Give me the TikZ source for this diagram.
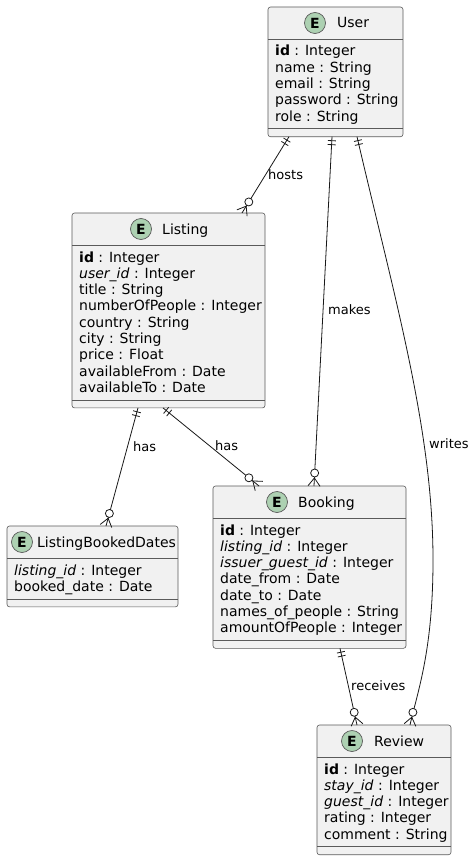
\documentclass[tikz,border=0pt]{standalone}
\usepackage{fontspec}
\setmainfont{DejaVu Sans}
\usetikzlibrary{calc}
\definecolor{boxfill}{HTML}{F1F1F1}
\definecolor{ink}{HTML}{181818}
\definecolor{boxline}{HTML}{5A5A5A}
\definecolor{badgefill}{HTML}{ADD1B2}
\tikzset{
  entbox/.style={draw=boxline, line width=0.6pt, fill=boxfill, rounded corners=2.5pt, inner sep=0pt, outer sep=0pt},
  sepline/.style={draw=boxline, line width=0.6pt},
  badge/.style={circle, draw=boxline, line width=0.7pt, fill=badgefill, minimum size=21pt, inner sep=0pt, font=\fontsize{14}{14}\selectfont\bfseries},
  ttl/.style={inner sep=0pt, font=\fontsize{14}{16}\selectfont},
  attr/.style={inner sep=0pt, font=\fontsize{14}{16}\selectfont},
  conn/.style={draw=ink, line width=0.8pt},
  lbl/.style={inner sep=0pt, font=\fontsize{13}{15}\selectfont},
}
% #1 name, #2 x, #3 y, #4 width, #5 rows, #6 badge x, #7 title x, #8 title, #9 rows
\newcommand\entity[9]{%
  \pgfmathsetmacro\enth{64.5+(#5-1)*16.3}%
  \node[entbox, minimum width=#4pt, minimum height=\enth pt, anchor=north west] (#1) at (#2,#3) {};
  \draw[sepline] ([yshift=-32pt]#1.north west) -- ([yshift=-32pt]#1.north east);
  \draw[sepline] ([yshift=8pt]#1.south west) -- ([yshift=8pt]#1.south east);
  \node[badge] (#1-e) at (#6,#3+16) {E};
  \node[ttl, anchor=base west] (#1-t) at (#7,#3+21) {#8};
  \foreach \attrtext [count=\i from 0] in {#9} {%
    \node[attr, anchor=base west] (#1-a\i) at (#2+7,#3+49+16.3*\i) {\attrtext};
  }%
}
\newcommand\onemark[2]{%
  \coordinate (om-a) at ($(#1)!4pt!(#2)$);
  \coordinate (om-b) at ($(#1)!8pt!(#2)$);
  \draw[conn] ($(om-a)!4pt!90:(#2)$) -- ($(om-a)!4pt!-90:(#2)$);
  \draw[conn] ($(om-b)!4pt!90:(#2)$) -- ($(om-b)!4pt!-90:(#2)$);
}
\newcommand\manymark[2]{%
  \coordinate (mm-c) at ($(#2)!13pt!(#1)$);
  \coordinate (mm-p) at ($(#2)!8pt!(#1)$);
  \draw[conn] (mm-p) -- ($(#2)!6pt!90:(#1)$);
  \draw[conn] (mm-p) -- ($(#2)!6pt!-90:(#1)$);
  \draw[conn, fill=white] (mm-c) circle[radius=4pt];
}
\begin{document}
\begin{tikzpicture}[x=1pt, y=-1pt]
\useasboundingbox[fill=white] (0,0) rectangle (475,859);

\entity{user}{268}{7}{135}{5}{315}{337}{User}{\textbf{id} : Integer, name : String, email : String, password : String, role : String}
\entity{listing}{72}{213}{193}{9}{141}{162}{Listing}{\textbf{id} : Integer, \textit{user\_id} : Integer, title : String, numberOfPeople : Integer, country : String, city : String, price : Float, availableFrom : Date, availableTo : Date}
\entity{lbd}{7}{526}{171}{2}{22}{37}{ListingBookedDates}{\textit{listing\_id} : Integer, booked\_date : Date}
\entity{booking}{213}{486}{193}{7}{277}{298}{Booking}{\textbf{id} : Integer, \textit{listing\_id} : Integer, \textit{issuer\_guest\_id} : Integer, date\_from : Date, date\_to : Date, names\_of\_people : String, amountOfPeople : Integer}
\entity{review}{317}{725}{134}{5}{352}{374}{Review}{\textbf{id} : Integer, \textit{stay\_id} : Integer, \textit{guest\_id} : Integer, rating : Integer, comment : String}

% hosts
\coordinate (hs) at ($(user.south west)+(21,0)$);
\coordinate (he) at ($(listing.north west)+(170,0)$);
\draw[conn] (hs) -- (he);
\onemark{hs}{he}\manymark{hs}{he}
\node[lbl, anchor=base west] (lhosts) at (268,179) {hosts};

% makes
\coordinate (ms) at ($(user.south west)+(64,0)$);
\coordinate (me) at ($(booking.north west)+(101,0)$);
\draw[conn] (ms) -- (me);
\onemark{ms}{me}\manymark{ms}{me}
\node[lbl, anchor=base west] (lmakes) at (328,314) {makes};

% writes
\coordinate (ws) at ($(user.south west)+(89,0)$);
\coordinate (we) at ($(review.north west)+(93,0)$);
\coordinate (wm) at (433,560);
\coordinate (wt) at (418,690);
\coordinate (wc) at (395,300);
\draw[conn] (ws) .. controls (wc) and (433,430) .. (wm) .. controls (433,650) and (wt) .. (we);
\onemark{ws}{wc}\manymark{wt}{we}
\node[lbl, anchor=base west] (lwrites) at (429,448) {writes};

% listing has dates
\coordinate (as) at ($(listing.south west)+(66,0)$);
\coordinate (ae) at ($(lbd.north west)+(99,0)$);
\draw[conn] (as) -- (ae);
\onemark{as}{ae}\manymark{as}{ae}
\node[lbl, anchor=base west] (lhas1) at (133,451) {has};

% listing has booking
\coordinate (bs) at ($(listing.south west)+(91,0)$);
\coordinate (be) at ($(booking.north west)+(46,0)$);
\draw[conn] (bs) -- (be);
\onemark{bs}{be}\manymark{bs}{be}
\node[lbl, anchor=base west] (lhas2) at (215,450) {has};

% receives
\coordinate (rs) at ($(booking.south west)+(127,0)$);
\coordinate (re) at ($(review.north west)+(40,0)$);
\draw[conn] (rs) -- (re);
\onemark{rs}{re}\manymark{rs}{re}
\node[lbl, anchor=base west] (lrec) at (351,690) {receives};
\end{tikzpicture}
\end{document}
